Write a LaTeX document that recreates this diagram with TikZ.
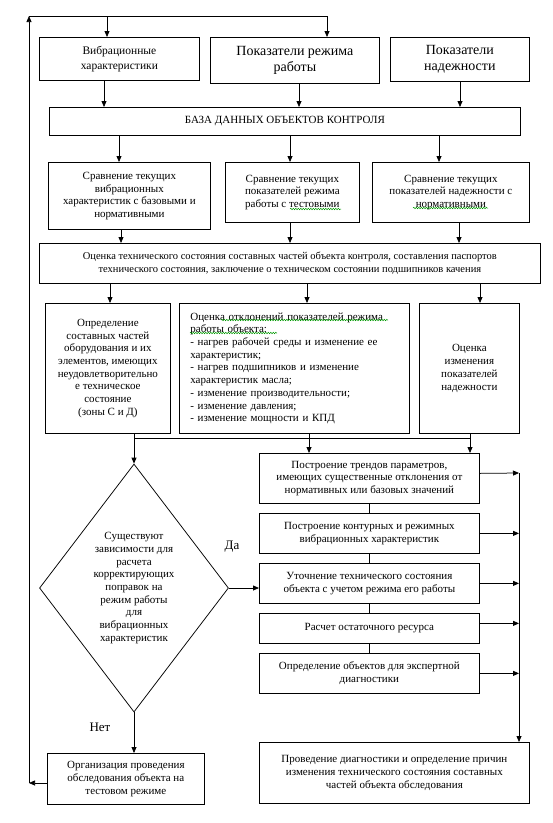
\documentclass[tikz,border=0pt]{standalone}
\usepackage{fontspec}
\setmainfont{Liberation Serif}
\usetikzlibrary{arrows.meta,shapes.geometric,decorations.pathmorphing}
\begin{document}
\begin{tikzpicture}[
    x=1pt, y=-1pt,
    box/.style={draw, line width=0.75pt, anchor=north west, inner sep=2pt, align=center,
      font=\fontsize{11}{12.7}\selectfont},
    big/.style={font=\fontsize{14}{16}\selectfont},
    dia/.style={draw, diamond, line width=0.75pt, shape aspect=0.76, inner sep=0pt,
      minimum width=189pt, minimum height=248pt, align=center, font=\fontsize{11}{12.7}\selectfont},
    link/.style={line width=0.75pt},
    flow/.style={line width=0.75pt, -{Triangle[length=6pt,width=5pt]}},
    spell/.style={green!60!black, line width=0.5pt, decorate,
      decoration={snake, amplitude=0.7pt, segment length=2.5pt}}
  ]
  \useasboundingbox (0,0) rectangle (553,823);
  % Draw the input boxes.
  \node[box, minimum width=160pt, minimum height=43pt, font=\fontsize{11.5}{15}\selectfont] (vib) at (39,37) {Вибрационные\\характеристики};
  \node[box, big, minimum width=169pt, minimum height=46pt] (rezh) at (210,37) {Показатели режима\\работы};
  \node[box, big, minimum width=139pt, minimum height=44pt] (nad) at (390,37) {Показатели\\надежности};
  \node[box, minimum width=471pt, minimum height=28pt] (db) at (49,107) {БАЗА ДАННЫХ ОБЪЕКТОВ КОНТРОЛЯ};
  % Draw the comparison boxes.
  \node[box, minimum width=162pt, minimum height=67pt] (srvib) at (48,162) {Сравнение текущих\\вибрационных\\характеристик с базовыми и\\нормативными};
  \node[box, minimum width=134pt, minimum height=60pt] (srrezh) at (225,162) {Сравнение текущих\\показателей режима\\работы с тестовыми};
  \node[box, minimum width=157pt, minimum height=60pt] (srnad) at (372,162) {Сравнение текущих\\показателей надежности с\\нормативными};
  \node[box, minimum width=501pt, minimum height=40pt, font=\fontsize{10.5}{12.7}\selectfont] (ocen) at (39,243) {Оценка технического состояния составных частей объекта контроля, составления паспортов\\технического состояния, заключение о техническом состоянии подшипников качения};
  % Draw the evaluation boxes.
  \node[box, minimum width=125pt, minimum height=130pt] (opr) at (45,303) {Определение\\составных частей\\оборудования и их\\элементов, имеющих\\неудовлетворительно\\е техническое\\состояние\\(зоны С и Д)};
  \node[box, minimum width=230pt, minimum height=130pt, align=left, text width=208pt, inner xsep=11pt] (otkl) at (179,303) {Оценка отклонений показателей режима\\работы объекта:\\- нагрев рабочей среды и изменение ее\\характеристик;\\- нагрев подшипников и изменение\\характеристик масла;\\- изменение производительности;\\- изменение давления;\\- изменение мощности и КПД};
  \node[box, minimum width=100pt, minimum height=130pt] (ocnad) at (419,303) {Оценка\\изменения\\показателей\\надежности};
  % Draw the decision and the right column.
  \node[dia] (dec) at (134,588) {Существуют\\зависимости для\\расчета\\корректирующих\\поправок на\\режим работы\\для\\вибрационных\\характеристик};
  \node[font=\fontsize{13}{15}\selectfont] (da) at (232,547) {Да};
  \node[font=\fontsize{13}{15}\selectfont] (net) at (100,727) {Нет};
  \node[box, minimum width=157pt, minimum height=51pt] (org) at (47,753) {Организация проведения\\обследования объекта на\\тестовом режиме};
  \node[box, minimum width=220pt, minimum height=50pt] (tren) at (259,453) {Построение трендов параметров,\\имеющих существенные отклонения от\\нормативных или базовых значений};
  \node[box, minimum width=220pt, minimum height=40pt] (kont) at (259,513) {Построение контурных и режимных\\вибрационных характеристик};
  \node[box, minimum width=220pt, minimum height=40pt] (uto) at (259,563) {Уточнение технического состояния\\объекта с учетом режима его работы};
  \node[box, minimum width=220pt, minimum height=30pt] (ras) at (259,613) {Расчет остаточного ресурса};
  \node[box, minimum width=220pt, minimum height=40pt] (eksp) at (259,653) {Определение объектов для экспертной\\диагностики};
  \node[box, minimum width=270pt, minimum height=61pt] (prov) at (259,742) {Проведение диагностики и определение причин\\изменения технического состояния составных\\частей объекта обследования};
  % Draw the feedback loop.
  \coordinate (fb1) at (29,783);
  \coordinate (fb2) at (29,16);
  \coordinate (fb3) at (327,16);
  \draw[flow] (org.west |- fb1) -- (fb1);
  \draw[flow] (fb1) -- (fb2);
  \draw[link] (fb2) -- (fb3);
  \draw[flow] (fb2 -| 107,0) -- (vib.north -| 107,0);
  \draw[flow] (fb3) -- (fb3 |- rezh.north);
  % Draw the transitions down the page.
  \draw[flow] (vib.south -| 104,0) -- (db.north -| 104,0);
  \draw[flow] (rezh.south -| 299,0) -- (db.north -| 299,0);
  \draw[flow] (nad.south -| 460,0) -- (db.north -| 460,0);
  \draw[flow] (db.south -| 119,0) -- (srvib.north -| 119,0);
  \draw[flow] (db.south -| 290,0) -- (srrezh.north -| 290,0);
  \draw[flow] (db.south -| 439,0) -- (srnad.north -| 439,0);
  \draw[flow] (srvib.south -| 121,0) -- (ocen.north -| 121,0);
  \draw[flow] (srrezh.south -| 290,0) -- (ocen.north -| 290,0);
  \draw[flow] (srnad.south -| 459,0) -- (ocen.north -| 459,0);
  \draw[flow] (ocen.south -| 110,0) -- (opr.north -| 110,0);
  \draw[flow] (ocen.south -| 307,0) -- (otkl.north -| 307,0);
  \draw[flow] (ocen.south -| 480,0) -- (ocnad.north -| 480,0);
  % Draw the collecting line below the evaluation boxes.
  \coordinate (bus1) at (134,438);
  \coordinate (bus2) at (470,438);
  \draw[link] (bus1) -- (bus2);
  \draw[flow] (opr.south -| bus1) -- (dec.north);
  \draw[flow] (otkl.south -| 309,0) -- (tren.north -| 309,0);
  \draw[flow] (ocnad.south -| bus2) -- (tren.north -| bus2);
  \draw[flow] (dec.east) -- (dec.east -| uto.west);
  \draw[flow] (dec.south) -- (dec.south |- org.north);
  % Draw the right column.
  \draw[link] (tren) -- (kont) -- (uto) -- (ras) -- (eksp);
  \coordinate (rv) at (519,473);
  \draw[flow] ([yshift=5pt]tren.east) -- (rv);
  \draw[flow] (kont.east) -- (kont.east -| rv);
  \draw[flow] (uto.east) -- (uto.east -| rv);
  \draw[flow] ([yshift=5pt]ras.east) -- ([yshift=5pt]ras.east -| rv);
  \draw[flow] (eksp.east) -- (eksp.east -| rv);
  \draw[flow] (rv) -- (rv |- prov.north);
  % Draw the spelling marks.
  \draw[spell] (290,209) -- (341,209);
  \draw[spell] (413,208) -- (488,208);
  \draw[spell] (221,320) -- (388,320);
  \draw[spell] (190,333) -- (277,333);
\end{tikzpicture}
\end{document}
